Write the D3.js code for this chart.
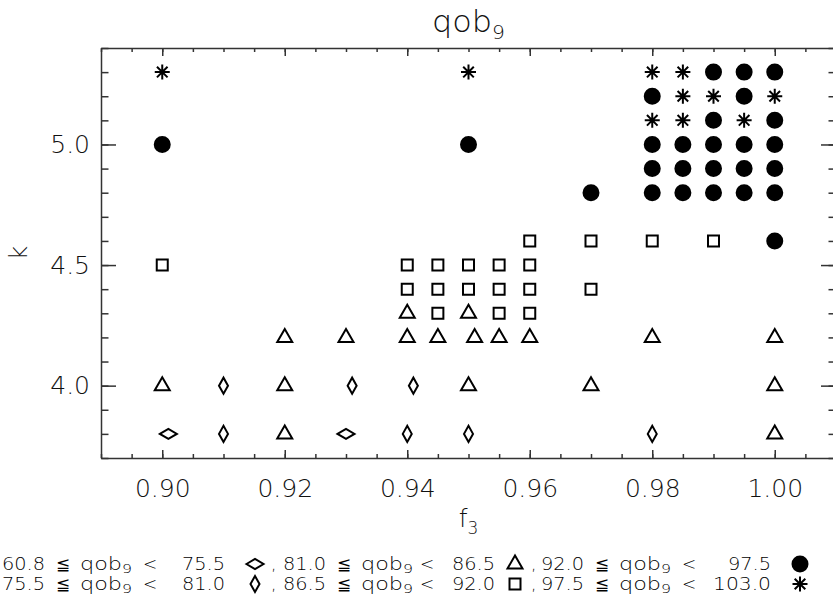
<!DOCTYPE html>
<html>
<head>
<meta charset="utf-8">
<script src="https://cdn.jsdelivr.net/npm/d3@7"></script>
<style>
  body { margin: 0; background: #fff; }
  svg { display: block; font-family: 'DejaVu Sans', sans-serif; font-weight: 200; }
  .axis path, .axis line { stroke: #333; stroke-width: 1.5; }
  .axis text { fill: #111; font-size: 25px; font-family: 'DejaVu Sans', sans-serif; font-weight: 200; }
</style>
</head>
<body>
<svg id="chart"></svg>
<script>
// points, row by row (k = 3.8 ... 5.3)
const f3 = [
  0.901, 0.91, 0.92, 0.93, 0.94, 0.95, 0.98, 1.00,
  0.90, 0.91, 0.92, 0.931, 0.941, 0.95, 0.97, 1.00,
  0.92, 0.93, 0.94, 0.945, 0.951, 0.955, 0.96, 0.98, 1.00,
  0.94, 0.945, 0.95, 0.955, 0.96,
  0.94, 0.945, 0.95, 0.955, 0.96, 0.97,
  0.90, 0.94, 0.945, 0.95, 0.955, 0.96,
  0.96, 0.97, 0.98, 0.99, 1.00,
  0.97, 0.98, 0.985, 0.99, 0.995, 1.00,
  0.98, 0.985, 0.99, 0.995, 1.00,
  0.90, 0.95, 0.98, 0.985, 0.99, 0.995, 1.00,
  0.98, 0.985, 0.99, 0.995, 1.00,
  0.98, 0.985, 0.99, 0.995, 1.00,
  0.90, 0.95, 0.98, 0.985, 0.99, 0.995, 1.00
]
const kVals = [
  3.8, 3.8, 3.8, 3.8, 3.8, 3.8, 3.8, 3.8,
  4.0, 4.0, 4.0, 4.0, 4.0, 4.0, 4.0, 4.0,
  4.2, 4.2, 4.2, 4.2, 4.2, 4.2, 4.2, 4.2, 4.2,
  4.3, 4.3, 4.3, 4.3, 4.3,
  4.4, 4.4, 4.4, 4.4, 4.4, 4.4,
  4.5, 4.5, 4.5, 4.5, 4.5, 4.5,
  4.6, 4.6, 4.6, 4.6, 4.6,
  4.8, 4.8, 4.8, 4.8, 4.8, 4.8,
  4.9, 4.9, 4.9, 4.9, 4.9,
  5.0, 5.0, 5.0, 5.0, 5.0, 5.0, 5.0,
  5.1, 5.1, 5.1, 5.1, 5.1,
  5.2, 5.2, 5.2, 5.2, 5.2,
  5.3, 5.3, 5.3, 5.3, 5.3, 5.3, 5.3
]
// qob9 class of each point (index into the legend bins)
const qobClass = [
  0, 1, 2, 0, 1, 1, 1, 2,
  2, 1, 2, 1, 1, 2, 2, 2,
  2, 2, 2, 2, 2, 2, 2, 2, 2,
  2, 3, 2, 3, 3,
  3, 3, 3, 3, 3, 3,
  3, 3, 3, 3, 3, 3,
  3, 3, 3, 3, 4,
  4, 4, 4, 4, 4, 4,
  4, 4, 4, 4, 4,
  4, 4, 4, 4, 4, 4, 4,
  5, 5, 4, 5, 4,
  4, 5, 5, 4, 5,
  5, 5, 5, 5, 4, 4, 4
]

const binLow = ['60.8', '75.5', '81.0', '86.5', '92.0', '97.5']
const binHigh = ['75.5', '81.0', '86.5', '92.0', '97.5', '103.0']

const xTicks = [0.90, 0.92, 0.94, 0.96, 0.98, 1.00]
const yTicks = [4.0, 4.5, 5.0]

const width = 833
const height = 596
const margin = { left: 101, right: 836, top: 48, bottom: 458 }

const svg = d3.select('#chart')
  .attr('width', width)
  .attr('height', height)

let x = d3.scaleLinear().domain([0.89, 1.01]).range([margin.left, margin.right])
let y = d3.scaleLinear().domain([3.7, 5.4]).range([margin.bottom, margin.top])

let xMinor = d3.range(0.89, 1.0101, 0.005)
let yMinor = d3.range(3.7, 5.401, 0.1)

/* marker shapes, one per qob9 bin */
function marker(c) {
  switch (c) {
    case 0: return 'M-8.5,0L0,-5L8.5,0L0,5Z'
    case 1: return 'M-4.5,0L0,-8L4.5,0L0,8Z'
    case 2: return 'M-7.5,4.5L0,-8.5L7.5,4.5Z'
    case 3: return 'M-5.5,-5.5H5.5V5.5H-5.5Z'
    case 4: return d3.symbol(d3.symbolCircle, Math.PI * 7.5 * 7.5)()
    default: return 'M0,-7.5V7.5M-7.5,0H7.5M-5.3,-5.3L5.3,5.3M-5.3,5.3L5.3,-5.3'
  }
}

/* axes: majors carry labels, minors are short */
function addAxis(axis, tx, ty, keepDomain) {
  let g = svg.append('g').attr('class', 'axis')
    .attr('transform', `translate(${tx},${ty})`)
    .call(axis)
  if (!keepDomain) g.select('.domain').remove()
  return g
}

addAxis(d3.axisBottom(x).tickValues(xMinor).tickSize(-4).tickSizeOuter(0).tickFormat(''), 0, margin.bottom, true)
addAxis(d3.axisBottom(x).tickValues(xTicks).tickSize(-8).tickPadding(21).tickFormat(d3.format('.2f')), 0, margin.bottom)
addAxis(d3.axisTop(x).tickValues(xMinor).tickSize(-4).tickSizeOuter(0).tickFormat(''), 0, margin.top, true)
addAxis(d3.axisTop(x).tickValues(xTicks).tickSize(-8).tickFormat(''), 0, margin.top)

addAxis(d3.axisLeft(y).tickValues(yMinor).tickSize(-7.5).tickSizeOuter(0).tickFormat(''), margin.left, 0, true)
addAxis(d3.axisLeft(y).tickValues(yTicks).tickSize(-15).tickPadding(11).tickFormat(d3.format('.1f')), margin.left, 0)
addAxis(d3.axisRight(y).tickValues(yMinor).tickSize(-7.5).tickSizeOuter(0).tickFormat(''), margin.right, 0, true)
addAxis(d3.axisRight(y).tickValues(yTicks).tickSize(-15).tickFormat(''), margin.right, 0)

/* points */
svg.append('g')
  .selectAll('path')
  .data(d3.range(f3.length))
  .enter()
  .append('path')
    .attr('transform', i => `translate(${x(f3[i])},${y(kVals[i])})`)
    .attr('d', i => marker(qobClass[i]))
    .attr('fill', i => qobClass[i] === 4 ? '#000' : 'none')
    .attr('stroke', '#000')
    .attr('stroke-width', 2)

/* title */
let title = svg.append('text')
  .attr('x', 432)
  .attr('y', 32)
  .attr('textLength', 73)
  .attr('lengthAdjust', 'spacingAndGlyphs')
  .style('font-size', '30px')
  .attr('fill', '#111')
title.append('tspan').text('qob')
title.append('tspan').attr('dy', 7).style('font-size', '19px').text('9')

/* x label */
let xLabel = svg.append('text')
  .attr('x', (margin.left + margin.right) / 2)
  .attr('y', 527)
  .attr('text-anchor', 'middle')
  .style('font-size', '25px')
  .attr('fill', '#111')
xLabel.append('tspan').text('f')
xLabel.append('tspan').attr('dy', 7).style('font-size', '17px').text('3')

/* y label */
svg.append('text')
  .attr('transform', `translate(27,${(margin.top + margin.bottom) / 2}) rotate(-90)`)
  .attr('text-anchor', 'middle')
  .style('font-size', '25px')
  .attr('fill', '#111')
  .text('k')

/* legend: three columns of two rows */
let colX = [2, 283, 541]
let hiX = [225, 495, 771]
let symX = [255, 515, 800]
let rowY = [570, 590]

function stretched(g, txt, xPos, len, anchor) {
  return g.append('text')
    .attr('x', xPos)
    .attr('text-anchor', anchor || 'start')
    .attr('textLength', len)
    .attr('lengthAdjust', 'spacingAndGlyphs')
    .text(txt)
}

binLow.forEach((lo, i) => {
  let col = Math.floor(i / 2)
  let row = i % 2
  let g = svg.append('g')
    .attr('transform', `translate(0,${rowY[row]})`)
    .style('font-size', '17px')
    .attr('fill', '#000')

  stretched(g, lo, colX[col], 43)
  g.append('text').attr('x', colX[col] + 54).text('≦')
  let q = g.append('text')
    .attr('x', colX[col] + 78)
    .attr('textLength', 52)
    .attr('lengthAdjust', 'spacingAndGlyphs')
  q.append('tspan').text('qob')
  q.append('tspan').attr('dy', 3).style('font-size', '12px').text('9')
  g.append('text').attr('x', colX[col] + (col === 1 ? 137 : 141)).text('<')
  stretched(g, binHigh[i], hiX[col], binHigh[i].length > 4 ? 58 : 43, 'end')
  if (col < 2) g.append('text').attr('x', symX[col] + 16).text(',')

  g.append('path')
    .attr('transform', `translate(${symX[col]},-6)`)
    .attr('d', marker(i))
    .attr('fill', i === 4 ? '#000' : 'none')
    .attr('stroke', '#000')
    .attr('stroke-width', 2)
})
</script>
</body>
</html>
